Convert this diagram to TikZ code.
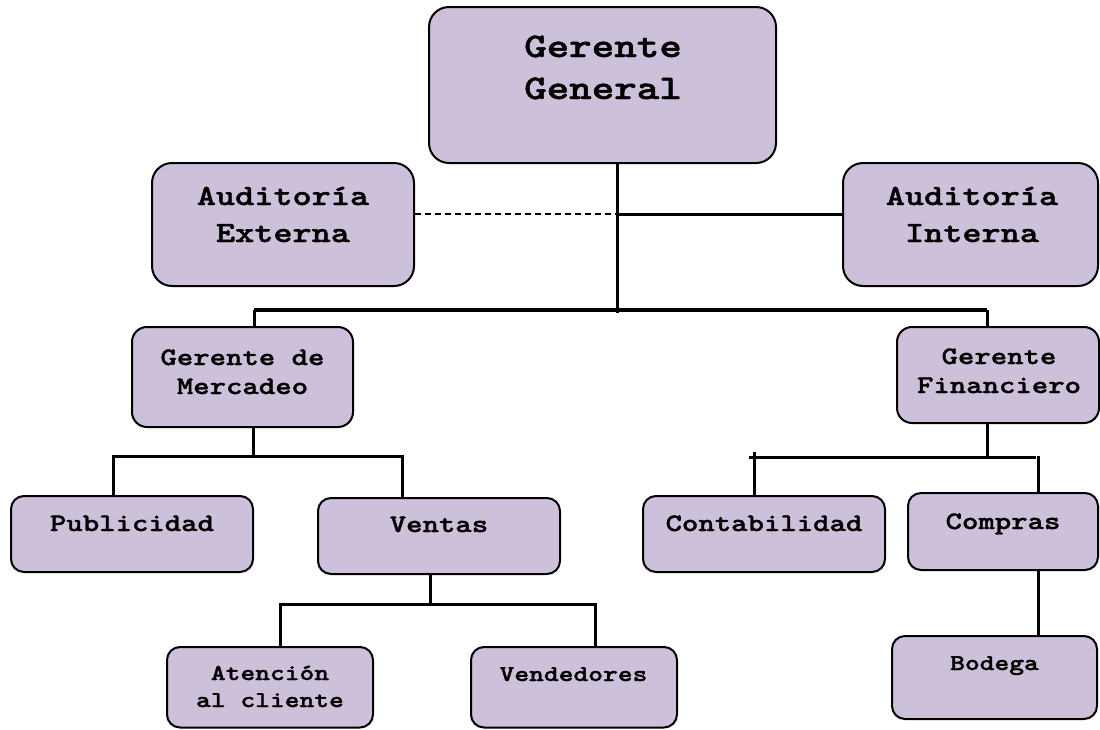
\documentclass[tikz,border=0pt]{standalone}
\usepackage{fontspec}
\newfontfamily\cour{lmmonolt10-bold.otf}[FakeStretch=1.24,FakeBold=1.3]
\definecolor{lav}{RGB}{204,192,218}
\tikzset{
  box/.style={draw=black, line width=2pt, fill=lav, rounded corners=#1, inner sep=0pt},
  lbl/.style={inner sep=0pt, anchor=base},
  conn/.style={draw=black, line width=3pt},
  bar/.style={draw=black, line width=3.6pt},
  dconn/.style={draw=black, line width=1.8pt, dash pattern=on 6pt off 4pt},
  fA/.style={font=\cour\fontsize{34.6}{42}\selectfont},
  fB/.style={font=\cour\fontsize{29.4}{37}\selectfont},
  fC/.style={font=\cour\fontsize{25.2}{29}\selectfont},
  fD/.style={font=\cour\fontsize{22.7}{27}\selectfont}
}
\newcommand\orgbox[6]{%
  \node[box=#6, minimum width={#4-#2}, minimum height={#5-#3}] (#1) at ({(#2+#4)/2},{(#3+#5)/2}) {};}
\begin{document}
\begin{tikzpicture}[x=1pt,y=-1pt]
\useasboundingbox (0,0) rectangle (1100,729);
% boxes
\orgbox{GG}{429}{7}{776}{163}{20pt}
\orgbox{AE}{152}{163}{414}{286}{20pt}
\orgbox{AI}{843}{163}{1098}{286}{20pt}
\orgbox{GM}{132}{327}{353}{427}{15pt}
\orgbox{GF}{897}{327}{1099}{423}{15pt}
\orgbox{Pub}{11}{496}{253}{572}{13pt}
\orgbox{Ven}{318}{498}{560}{574}{13pt}
\orgbox{Con}{643}{496}{885}{572}{13pt}
\orgbox{Com}{908}{493}{1098}{570}{13pt}
\orgbox{Ate}{167}{647}{373}{727.5}{13pt}
\orgbox{Vnd}{471}{647}{677}{727.5}{13pt}
\orgbox{Bod}{892}{636}{1097}{719}{13pt}
% texts
\node[lbl,fA] (gg1) at (603,57) {Gerente};
\node[lbl,fA] (gg2) at (603,99) {General};
\node[lbl,fB] (ae1) at (283,205) {Auditoría};
\node[lbl,fB] (ae2) at (283,242) {Externa};
\node[lbl,fB] (ai1) at (972,205) {Auditoría};
\node[lbl,fB] (ai2) at (972,242) {Interna};
\node[lbl,fC] (gm1) at (242.5,365) {Gerente de};
\node[lbl,fC] (gm2) at (242.5,394) {Mercadeo};
\node[lbl,fC] (gf1) at (999,364) {Gerente};
\node[lbl,fC] (gf2) at (999,393) {Financiero};
\node[lbl,fC] (pub) at (132,531) {Publicidad};
\node[lbl,fC] (ven) at (439,532) {Ventas};
\node[lbl,fC] (con) at (764,531) {Contabilidad};
\node[lbl,fC] (com) at (1003,529) {Compras};
\node[lbl,fD] (at1) at (270,680) {Atención};
\node[lbl,fD] (at2) at (270,707) {al cliente};
\node[lbl,fD] (vnd) at (573.5,681) {Vendedores};
\node[lbl,fD] (bod) at (994.5,670) {Bodega};
% junction coordinates
\coordinate (t1) at (617,313);
\coordinate (aj) at (617,214);
\coordinate (bl) at (254,310);
\coordinate (br) at (987,310);
\coordinate (m1) at (253,456);
\coordinate (ml) at (113,456);
\coordinate (mr) at (402,456);
\coordinate (v1) at (430,604);
\coordinate (vl) at (280,604);
\coordinate (vr) at (595,604);
\coordinate (f1) at (987,457);
\coordinate (fl) at (749,457);
\coordinate (fr) at (1036,457);
\coordinate (ft) at (754,452);
\coordinate (fd) at (1038,456);
% connectors
\draw[conn] (GG.south -| t1) -- (t1);
\draw[dconn] (AE.east |- aj) -- (aj);
\draw[conn] (aj) -- (aj -| AI.west);
\draw[bar] (bl) -- (br);
\draw[conn] (bl) -- (bl |- GM.north);
\draw[conn] (br) -- (br |- GF.north);
\draw[conn] (GM.south -| m1) -- (m1);
\draw[conn] (ml |- Pub.north) -- (ml) -- (mr) -- (mr |- Ven.north);
\draw[conn] (Ven.south -| v1) -- (v1);
\draw[conn] (vl |- Ate.north) -- (vl) -- (vr) -- (vr |- Vnd.north);
\draw[conn] (GF.south -| f1) -- (f1);
\draw[conn] (fl) -- (fr);
\draw[conn] (ft) -- (ft |- Con.north);
\draw[conn] (fd) -- (fd |- Com.north);
\draw[conn] (Com.south -| fd) -- (fd |- Bod.north);
\end{tikzpicture}
\end{document}
